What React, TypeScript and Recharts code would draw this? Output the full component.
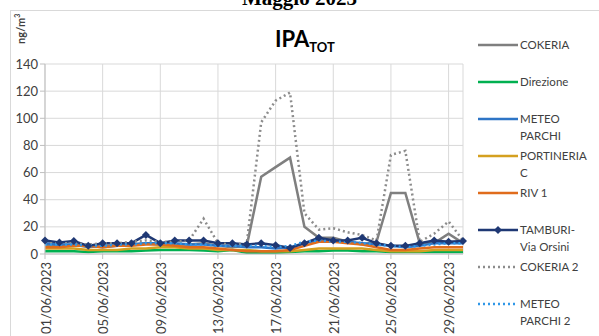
import { LineChart, Line, XAxis, YAxis, CartesianGrid } from 'recharts';

const dates = [
  '01/06/2023', '02/06/2023', '03/06/2023', '04/06/2023', '05/06/2023', '06/06/2023',
  '07/06/2023', '08/06/2023', '09/06/2023', '10/06/2023', '11/06/2023', '12/06/2023',
  '13/06/2023', '14/06/2023', '15/06/2023', '16/06/2023', '17/06/2023', '18/06/2023',
  '19/06/2023', '20/06/2023', '21/06/2023', '22/06/2023', '23/06/2023', '24/06/2023',
  '25/06/2023', '26/06/2023', '27/06/2023', '28/06/2023', '29/06/2023', '30/06/2023',
];

const cokeria = [7, 6, 7, 5, 6, 6, 7, 8, 7, 7, 7, 8, 6, 5, 6, 57, 64, 71, 20, 12, 12, 9, 7, 9, 45, 45, 8, 8, 15, 8];
const direzione = [2, 2, 2, 1.5, 2, 2, 2, 2.5, 3, 3, 3, 2.5, 2, 3, 1, 1, 1, 1.5, 2, 2, 2.5, 2.5, 2, 2, 1.5, 1.5, 1.5, 1.5, 1.5, 1.5];
const meteoParchi = [8, 7, 7, 6, 5, 6, 7, 8, 8, 8, 7, 7, 6, 6, 5, 5, 4, 5, 8, 10, 10, 9, 8, 7, 6, 5, 6, 8, 8, 8];
const portineria = [4, 4, 4, 3, 3, 3, 4, 4, 5, 5, 4, 4, 3, 3, 3, 2, 2, 2, 3, 4, 4, 4, 4, 3, 2, 2, 2, 3, 3, 3];
const riv1 = [5, 5, 6, 6, 5, 6, 6, 7, 7, 6, 5, 5, 4, 3, 2, 2, 2, 3, 6, 9, 9, 8, 7, 5, 3, 3, 4, 5, 5, 5];
const tamburi = [10, 8.5, 9.5, 6, 8, 8, 8, 14, 8, 10, 10, 10, 8, 8, 7, 8, 6.5, 4.5, 8, 12, 10, 10, 12, 8, 6, 6, 8, 10, 9, 9.5];
const cokeria2 = [8, 8, 8, 7, 8, 8, 9, 10, 9, 9, 10, 26, 8, 7, 8, 97, 113, 119, 30, 18, 19, 16, 14, 10, 73, 76, 9, 15, 24, 10];
const meteoParchi2 = [7, 7, 7, 6, 6, 7, 7, 8, 8, 8, 7, 7, 6, 6, 6, 6, 5, 6, 9, 10, 9, 9, 8, 7, 6, 5, 6, 7, 8, 8];

const yTicks = [0, 20, 40, 60, 80, 100, 120, 140];

const data = dates.map((d, i) => ({
  date: d,
  cokeria: cokeria[i],
  direzione: direzione[i],
  meteoParchi: meteoParchi[i],
  portineria: portineria[i],
  riv1: riv1[i],
  tamburi: tamburi[i],
  cokeria2: cokeria2[i],
  meteoParchi2: meteoParchi2[i],
}));

const series = [
  { key: 'cokeria', name: ['COKERIA'], color: '#7f7f7f', dash: undefined },
  { key: 'direzione', name: ['Direzione'], color: '#00b050', dash: undefined },
  { key: 'meteoParchi', name: ['METEO', 'PARCHI'], color: '#2e75c6', dash: undefined },
  { key: 'portineria', name: ['PORTINERIA', 'C'], color: '#d4a020', dash: undefined },
  { key: 'riv1', name: ['RIV 1'], color: '#e06c1c', dash: undefined },
  { key: 'tamburi', name: ['TAMBURI-', 'Via Orsini'], color: '#1f3874', dash: undefined },
  { key: 'cokeria2', name: ['COKERIA 2'], color: '#8c8c8c', dash: '2 3' },
  { key: 'meteoParchi2', name: ['METEO', 'PARCHI 2'], color: '#2f97e8', dash: '2 3' },
];

const font = 'Lato, "Open Sans", sans-serif';

const Diamond = (props: any) => {
  const { cx, cy, index } = props;
  if (cx == null || cy == null) return null;
  return (
    <polygon
      key={index}
      points={`${cx},${cy - 4} ${cx + 4},${cy} ${cx},${cy + 4} ${cx - 4},${cy}`}
      fill="#1f3874"
    />
  );
};

// etichette date ruotate, lette dal basso verso l'alto
const DateTick = ({ x, y, payload }: any) => (
  <g transform={`translate(${x},${y})`}>
    <text
      transform="rotate(-90)"
      x={-1}
      y={0}
      dy={5.5}
      textAnchor="end"
      fontSize={13}
      fontFamily={font}
      fill="#404040"
    >
      {payload.value}
    </text>
  </g>
);

const LegendBox = () => (
  <div style={{ fontFamily: font, fontSize: 11.5, color: '#404040' }}>
    {series.map((s) => (
      <div key={s.key} style={{ position: 'relative', height: 37 }}>
        <svg width={42} height={10} style={{ position: 'absolute', left: 0, top: 3 }}>
          <line
            x1={0}
            x2={40}
            y1={5}
            y2={5}
            stroke={s.color}
            strokeWidth={2.5}
            strokeDasharray={s.dash}
          />
          {s.key === 'tamburi' && <polygon points="20,1 24,5 20,9 16,5" fill={s.color} />}
        </svg>
        <div style={{ position: 'absolute', left: 42, top: 0, lineHeight: '16.5px' }}>
          {s.name.map((n) => (
            <div key={n}>{n}</div>
          ))}
        </div>
      </div>
    ))}
  </div>
);

export default function App() {
  return (
    <div
      style={{
        position: 'absolute',
        left: 0,
        top: 0,
        width: 599,
        height: 336,
        overflow: 'hidden',
        background: '#fff',
      }}
    >
      <div
        style={{
          position: 'absolute',
          left: 10,
          top: 10,
          width: 600,
          height: 400,
          border: '1px solid #d9d9d9',
        }}
      />
      <div
        style={{
          position: 'absolute',
          top: -14,
          left: 0,
          width: 599,
          textAlign: 'center',
          fontFamily: '"Liberation Serif", "DejaVu Serif", serif',
          fontWeight: 'bold',
          fontSize: 21,
        }}
      >
        Maggio 2023
      </div>
      <div
        style={{
          position: 'absolute',
          left: 275,
          top: 25,
          fontFamily: font,
          fontWeight: 'bold',
          fontSize: 22,
          color: '#000',
          whiteSpace: 'nowrap',
        }}
      >
        IPA<sub style={{ fontSize: 13 }}>TOT</sub>
      </div>
      <div
        style={{
          position: 'absolute',
          left: 4,
          top: 22,
          width: 32,
          transform: 'rotate(-90deg)',
          fontFamily: font,
          fontWeight: 'bold',
          fontSize: 11,
          textAlign: 'center',
          color: '#404040',
        }}
      >
        ng/m<sup style={{ fontSize: 7 }}>3</sup>
      </div>
      <div style={{ position: 'absolute', left: 478, top: 37, width: 121 }}>
        <LegendBox />
      </div>
      <div style={{ position: 'absolute', left: 0, top: 0 }}>
        <LineChart width={599} height={336} data={data} margin={{ top: 64, right: 136, bottom: 0, left: 8 }}>
          <CartesianGrid stroke="#d9d9d9" strokeWidth={1} vertical horizontal />
          <XAxis
            dataKey="date"
            interval={3}
            tick={<DateTick />}
            tickLine={{ stroke: '#bfbfbf' }}
            axisLine={{ stroke: '#bfbfbf' }}
            tickSize={5}
            height={82}
          />
          <YAxis
            domain={[0, 140]}
            ticks={yTicks}
            width={37}
            tick={{ fontSize: 13, fontFamily: font, fill: '#404040' }}
            tickLine={{ stroke: '#bfbfbf' }}
            axisLine={{ stroke: '#bfbfbf' }}
            tickSize={5}
            interval={0}
          />
          {series.map((s) => (
            <Line
              key={s.key}
              dataKey={s.key}
              name={s.name.join(' ')}
              stroke={s.color}
              strokeWidth={2.5}
              strokeDasharray={s.dash}
              dot={s.key === 'tamburi' ? <Diamond /> : false}
              activeDot={false}
              isAnimationActive={false}
            />
          ))}
        </LineChart>
      </div>
    </div>
  );
}
